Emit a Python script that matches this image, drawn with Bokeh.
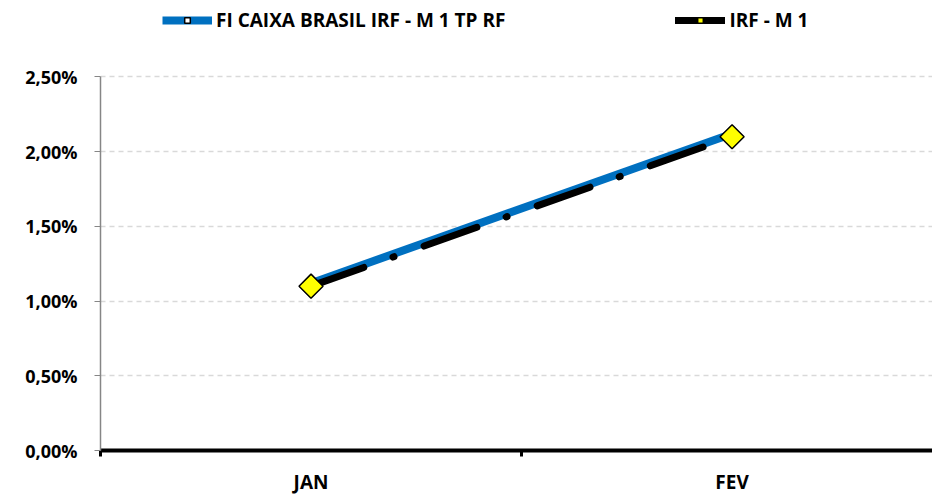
from bokeh.plotting import figure
from bokeh.models import (Range1d, FixedTicker, Legend, LegendItem, ColumnDataSource)
from bokeh.embed import file_html
from bokeh.resources import INLINE

months = ["JAN", "FEV"]
fundo = [1.12, 2.12]       # FI CAIXA BRASIL IRF - M 1 TP RF (%)
irfm1 = [1.10, 2.10]       # IRF - M 1 (%)
y_ticks = [0.0, 0.5, 1.0, 1.5, 2.0, 2.5]
y_labels = ["0,00%", "0,50%", "1,00%", "1,50%", "2,00%", "2,50%"]

xs = [i + 0.5 for i in range(len(months))]
src = ColumnDataSource(dict(x=xs, fundo=fundo, irfm1=irfm1))

FONT = "Open Sans"
ROT = 0.7853981634

p = figure(width=932, height=497, output_backend="svg", toolbar_location=None,
           x_range=Range1d(0, 1.976), y_range=Range1d(0, 3.012),
           min_border_left=100, min_border_right=0, min_border_bottom=44,
           min_border_top=0)
p.outline_line_color = None
p.background_fill_color = "white"
p.border_fill_color = "white"

blue_line = p.line("x", "fundo", source=src, line_color="#0070C0", line_width=8)
blue_mark = p.scatter("x", "fundo", source=src, marker="square", angle=ROT, size=7,
                      fill_color="white", line_color="black", line_width=1.5)
black_line = p.line("x", "irfm1", source=src, line_color="black", line_width=7,
                    line_dash="56 31 1 32", line_cap="round")
yellow_mark = p.scatter("x", "irfm1", source=src, marker="square", angle=ROT, size=17,
                        fill_color="#FFFF00", line_color="black", line_width=1.5)

# axes
p.xaxis.ticker = FixedTicker(ticks=xs, minor_ticks=[0, 1, 2])
p.xaxis.major_label_overrides = {x: m for x, m in zip(xs, months)}
p.xaxis.major_tick_line_color = None
p.xaxis.major_tick_out = 0
p.xaxis.major_tick_in = 0
p.xaxis.minor_tick_line_color = "black"
p.xaxis.minor_tick_line_width = 3
p.xaxis.minor_tick_out = 6
p.xaxis.minor_tick_in = 0
p.xaxis.axis_line_color = "black"
p.xaxis.axis_line_width = 4
p.xaxis.major_label_text_font = FONT
p.xaxis.major_label_text_font_style = "bold"
p.xaxis.major_label_text_font_size = "19px"
p.xaxis.major_label_text_color = "black"
p.xaxis.major_label_standoff = 12

p.yaxis.ticker = FixedTicker(ticks=y_ticks, minor_ticks=[])
p.yaxis.bounds = (0, 2.5)
p.yaxis.major_label_overrides = {t: l for t, l in zip(y_ticks, y_labels)}
p.yaxis.axis_line_color = "#868686"
p.yaxis.axis_line_width = 1.5
p.yaxis.major_tick_line_color = "#868686"
p.yaxis.major_tick_out = 6
p.yaxis.major_tick_in = 0
p.yaxis.major_label_text_font = FONT
p.yaxis.major_label_text_font_style = "bold"
p.yaxis.major_label_text_font_size = "18px"
p.yaxis.major_label_text_color = "black"
p.yaxis.major_label_standoff = 17

p.xgrid.grid_line_color = None
p.ygrid.grid_line_color = "#d9d9d9"
p.ygrid.grid_line_dash = "5 4"
p.ygrid.grid_line_width = 1.5

legend = Legend(items=[
    LegendItem(label="FI CAIXA BRASIL IRF - M 1 TP RF", renderers=[blue_line, blue_mark]),
    LegendItem(label="IRF - M 1", renderers=[black_line, yellow_mark]),
], orientation="horizontal", location=(62, 417),
    label_text_font=FONT, label_text_font_style="bold", label_text_font_size="19px",
    label_text_color="black",
    glyph_width=50, glyph_height=14, spacing=170, padding=4, margin=0,
    border_line_color=None, background_fill_alpha=0, label_standoff=4)
p.add_layout(legend, "center")

open("out.html", "w").write(file_html(p, INLINE))
